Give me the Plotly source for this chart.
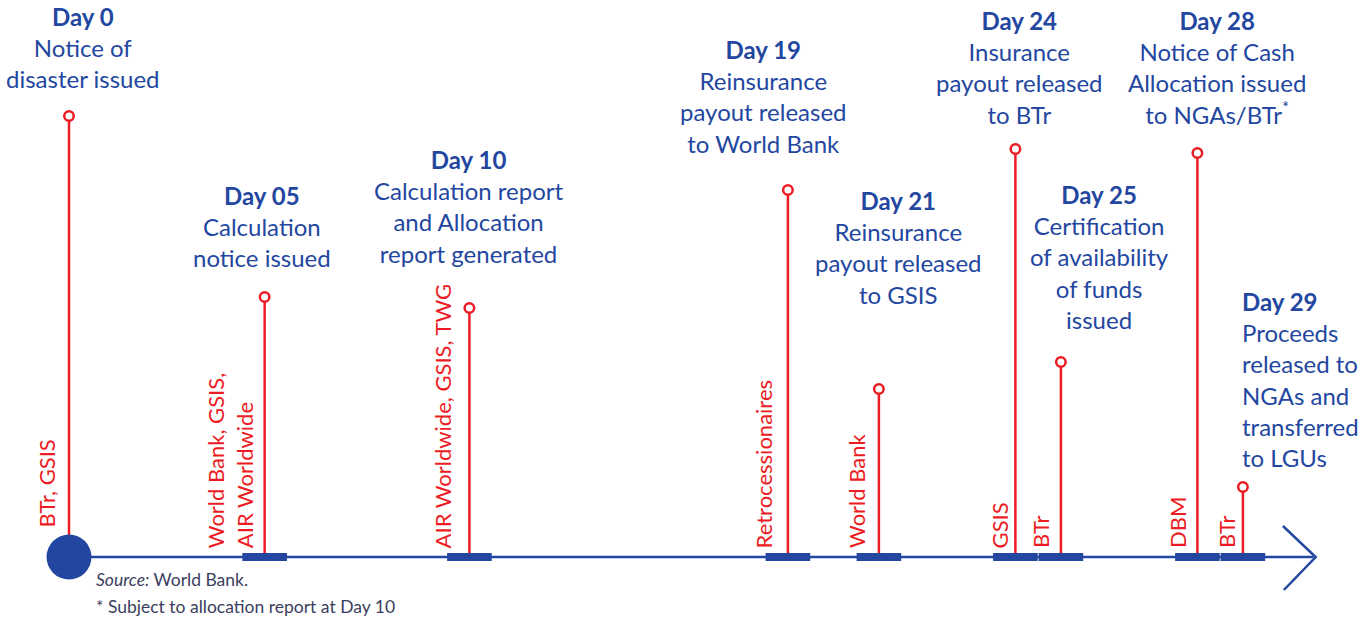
import numpy as np
import plotly.graph_objects as go

# ---------------- data ----------------
days = [0, 5, 10, 19, 21, 24, 25, 28, 29]
titles = ["Day 0", "Day 05", "Day 10", "Day 19", "Day 21", "Day 24", "Day 25", "Day 28", "Day 29"]
descriptions = [
    "Notice of<br>disaster issued",
    "Calculation<br>notice issued",
    "Calculation report<br>and Allocation<br>report generated",
    "Reinsurance<br>payout released<br>to World Bank",
    "Reinsurance<br>payout released<br>to GSIS",
    "Insurance<br>payout released<br>to BTr",
    "Certification<br>of availability<br>of funds<br>issued",
    "Notice of Cash<br>Allocation issued<br>to NGAs/BTr<sup>*</sup>",
    "Proceeds<br>released to<br>NGAs and<br>transferred<br>to LGUs",
]
actors = [
    "BTr, GSIS",
    "World Bank, GSIS,<br>AIR Worldwide",
    "AIR Worldwide, GSIS, TWG",
    "Retrocessionaires",
    "World Bank",
    "GSIS",
    "BTr",
    "DBM",
    "BTr",
]
stem_height = [441, 260, 249, 367, 168, 408, 195, 404, 70]

source_note = "<i>Source:</i> World Bank."
footnote = "* Subject to allocation report at Day 10"

# ---------------- styling / layout ----------------
BLUE = "#2347a0"
RED = "#ec1c24"
NOTE = "#3b3e5e"
FONT = "Lato"

# broken time axis: the idle stretch between day 10 and day 19 is compressed
scale_days = [0, 5, 10, 19, 29]
scale_pos = [0.0, 4.3, 8.8, 15.8, 25.8]


def tpos(d):
    return float(np.interp(d, scale_days, scale_pos))


xpos = [tpos(d) for d in days]

W, H = 1369, 621
PX = 45.5  # pixels per axis unit
x0 = -69 / PX
x1 = x0 + W / PX
y0, y1 = -64, 557

# label block placement (pixel offsets / tops)
title_dx = [14, -2.5, 0, -24.5, 19.5, 4.5, 38.5, 19.5, -2.5]
title_top = [0, 179, 143, 33, 184, 4, 178, 4, 285]
title_anchor = ["center"] * 8 + ["left"]
actor_dx = [-8, -5, -11, -9, -7.5, -0.5, -5.5, -4.5, -1.5]
actor_bottom = [27, 7, 7, 7, 7, 7, 7, 7, 7]

fig = go.Figure()

# baseline
fig.add_shape(type="line", x0=xpos[0], x1=tpos(29) + 1.55, y0=0, y1=0,
              line=dict(color=BLUE, width=2.5), layer="below")
# arrow head
tip = tpos(29) + 1.6
fig.add_shape(type="path",
              path=f"M {tip - 0.72},31 L {tip},0 L {tip - 0.70},-33",
              line=dict(color=BLUE, width=2.5))

# stems
sx, sy = [], []
for p, h in zip(xpos, stem_height):
    sx += [p, p, None]
    sy += [0, h, None]
fig.add_trace(go.Scatter(x=sx, y=sy, mode="lines", line=dict(color=RED, width=2.5),
                         hoverinfo="skip", showlegend=False))

# day blocks on the axis (skip day 0 which gets the big dot)
bx, by = [], []
for p in xpos[1:]:
    bx += [p - 0.49, p + 0.49, None]
    by += [0, 0, None]
fig.add_trace(go.Scatter(x=bx, y=by, mode="lines", line=dict(color=BLUE, width=8),
                         hoverinfo="skip", showlegend=False))

# start dot
fig.add_trace(go.Scatter(x=[xpos[0]], y=[0], mode="markers",
                         marker=dict(size=45, color=BLUE, line=dict(width=0)),
                         hoverinfo="skip", showlegend=False))

# lollipop heads
fig.add_trace(go.Scatter(x=xpos, y=stem_height, mode="markers",
                         marker=dict(size=9.5, color="white", line=dict(color=RED, width=2.5)),
                         hoverinfo="skip", showlegend=False))

# event descriptions
for i in range(len(days)):
    fig.add_annotation(
        x=xpos[i], y=y1 - title_top[i], xref="x", yref="y",
        xanchor=title_anchor[i], yanchor="top", xshift=title_dx[i],
        text=f"<b>{titles[i]}</b><br>{descriptions[i]}",
        showarrow=False, align=title_anchor[i],
        font=dict(family=FONT, size=24, color=BLUE),
    )
    fig.add_annotation(
        x=xpos[i], y=actor_bottom[i], xref="x", yref="y",
        xanchor="right", yanchor="bottom", xshift=actor_dx[i],
        text=actors[i], textangle=-90, showarrow=False, align="left",
        font=dict(family=FONT, size=22, color=RED),
    )

# notes
fig.add_annotation(x=94 / W, y=1 - 567 / H, xref="paper", yref="paper",
                   xanchor="left", yanchor="top", text=source_note, showarrow=False,
                   font=dict(family=FONT, size=17.5, color=NOTE))
fig.add_annotation(x=94 / W, y=1 - 594 / H, xref="paper", yref="paper",
                   xanchor="left", yanchor="top", text=footnote, showarrow=False,
                   font=dict(family=FONT, size=17.5, color=NOTE))

fig.update_layout(
    width=W, height=H,
    margin=dict(l=0, r=0, t=0, b=0),
    paper_bgcolor="white", plot_bgcolor="white",
    xaxis=dict(range=[x0, x1], visible=False, fixedrange=True),
    yaxis=dict(range=[y0, y1], visible=False, fixedrange=True),
    showlegend=False,
)

fig.write_html("out.html",
               config={"displayModeBar": False},
               post_script="document.body.style.margin='0';document.body.style.overflow='hidden';")
